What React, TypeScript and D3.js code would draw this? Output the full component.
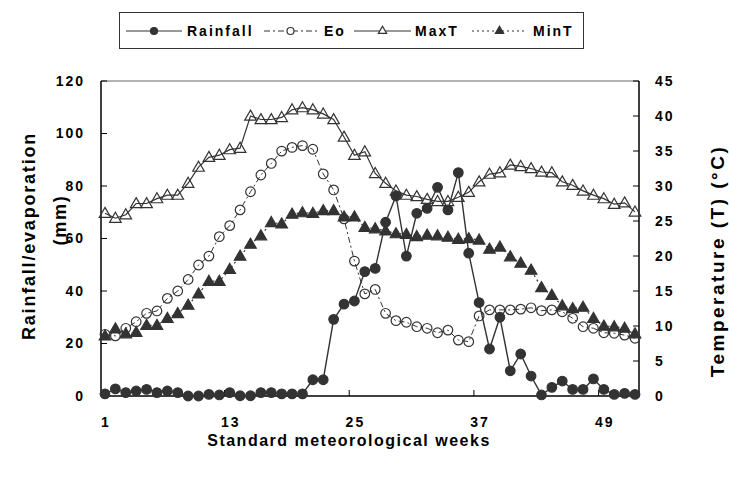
import { useEffect, useRef } from "react";
import * as d3 from "d3";

const weeks = d3.range(1, 53);

const rainfall = [
  0.8, 2.7, 1.3, 1.9, 2.5, 1.3, 1.9, 1.3, 0, 0, 0.6, 0.4, 1.3, 0.1, 0.1, 1.3, 1.3, 0.8, 0.8, 0.8,
  6.2, 6.2, 29.2, 35.0, 36.2, 47.4, 48.6, 66.2, 76.2, 53.3, 69.6, 71.5, 79.5, 70.9, 85.1, 54.4,
  35.6, 17.9, 30.0, 9.6, 16.0, 7.6, 0.4, 3.3, 5.7, 2.5, 2.5, 6.5, 2.5, 0.6, 1.0, 0.6,
];

const eo = [
  23.5, 22.9, 25.8, 28.3, 31.5, 32.4, 37.2, 40.0, 44.4, 49.9, 53.3, 60.7, 64.9, 70.9, 77.8, 84.2,
  88.6, 93.3, 94.7, 95.4, 94.0, 84.6, 78.5, 67.5, 51.4, 38.9, 40.6, 31.5, 28.7, 28.1, 26.4, 25.8,
  24.1, 25.1, 21.3, 20.7, 30.5, 32.8, 32.8, 32.8, 33.1, 33.6, 32.5, 32.8, 32.1, 29.6, 26.4, 25.8,
  24.1, 23.9, 23.2, 22.0,
];

const maxT = [
  26.1, 25.4, 25.9, 27.5, 27.5, 28.2, 28.7, 28.7, 30.4, 32.7, 34.1, 34.4, 35.2, 35.4, 40.0, 39.5,
  39.5, 39.8, 40.9, 41.2, 40.9, 40.3, 39.5, 37.0, 34.4, 34.9, 31.8, 30.4, 29.3, 28.7, 28.5, 28.1,
  27.8, 27.8, 28.4, 29.1, 30.6, 31.7, 31.9, 33.0, 32.8, 32.5, 32.0, 31.9, 30.6, 30.1, 29.3, 28.7,
  28.2, 27.4, 27.6, 26.3,
];

const minT = [
  8.6, 9.6, 8.9, 9.1, 10.1, 10.1, 11.1, 11.8, 13.0, 14.6, 16.4, 16.4, 18.1, 20.0, 21.7, 22.9,
  24.8, 24.6, 26.0, 26.2, 26.1, 26.5, 26.5, 25.6, 25.6, 24.1, 23.9, 23.6, 23.2, 23.1, 22.8, 23.0,
  22.9, 22.7, 22.4, 22.5, 22.3, 21.0, 21.3, 19.9, 19.0, 18.0, 15.5, 14.4, 12.9, 12.5, 12.7, 11.1,
  10.0, 9.9, 9.7, 8.9,
];

const leftTicks = [0, 20, 40, 60, 80, 100, 120];
const rightTicks = [0, 5, 10, 15, 20, 25, 30, 35, 40, 45];
const weekLabels = [1, 13, 25, 37, 49];

const INK = "#333";
const FONT = "'Liberation Sans', Arial, sans-serif";

export default function App() {
  const ref = useRef<SVGSVGElement>(null);

  useEffect(() => {
    const svg = d3.select(ref.current);
    svg.selectAll("*").remove();

    const left = 101, right = 639, top = 81, bottom = 396;

    const x = d3.scaleLinear().domain([1, 52]).range([105, 635]);
    const yL = d3.scaleLinear().domain([0, 120]).range([bottom, top]);
    const yR = d3.scaleLinear().domain([0, 45]).range([bottom, top]);

    // frame
    svg.append("line").attr("x1", left).attr("x2", right).attr("y1", top).attr("y2", top)
      .attr("stroke", "#999").attr("stroke-width", 1.5);
    svg.append("line").attr("x1", left).attr("x2", left).attr("y1", top).attr("y2", bottom)
      .attr("stroke", "#000").attr("stroke-width", 1.5);
    svg.append("line").attr("x1", right).attr("x2", right).attr("y1", top).attr("y2", bottom)
      .attr("stroke", "#000").attr("stroke-width", 1.5);
    svg.append("line").attr("x1", left).attr("x2", right).attr("y1", bottom).attr("y2", bottom)
      .attr("stroke", "#000").attr("stroke-width", 1.5);

    // left ticks
    const gl = svg.append("g");
    leftTicks.forEach((t) => {
      gl.append("line").attr("x1", left).attr("x2", left + 6).attr("y1", yL(t)).attr("y2", yL(t))
        .attr("stroke", "#000");
      gl.append("text").attr("x", 85).attr("y", yL(t)).attr("dy", "0.35em")
        .attr("text-anchor", "end").style("font", `bold 14px ${FONT}`)
        .style("letter-spacing", "2px").text(t);
    });

    // right ticks
    const gr = svg.append("g");
    rightTicks.forEach((t) => {
      gr.append("line").attr("x1", right - 6).attr("x2", right).attr("y1", yR(t)).attr("y2", yR(t))
        .attr("stroke", "#000");
      gr.append("text").attr("x", 655).attr("y", yR(t)).attr("dy", "0.35em")
        .attr("text-anchor", "start").style("font", `bold 14px ${FONT}`)
        .style("letter-spacing", "2px").text(t);
    });

    // x ticks between categories, labels on categories
    [12.5, 24.5, 36.5, 48.5].forEach((t) => {
      svg.append("line").attr("x1", x(t)).attr("x2", x(t)).attr("y1", bottom).attr("y2", bottom - 6)
        .attr("stroke", "#000");
    });
    weekLabels.forEach((w) => {
      svg.append("text").attr("x", x(w) + 1).attr("y", 427).attr("text-anchor", "middle")
        .style("font", `bold 14px ${FONT}`).style("letter-spacing", "2px").text(w);
    });

    // axis titles
    svg.append("text").attr("transform", "translate(29,236) rotate(-90)")
      .attr("text-anchor", "middle").attr("dominant-baseline", "central")
      .style("font", `bold 18px ${FONT}`).style("letter-spacing", "1.8px")
      .text("Rainfall/evaporation");
    svg.append("text").attr("transform", "translate(60,220) rotate(-90)")
      .attr("text-anchor", "middle").attr("dominant-baseline", "central")
      .style("font", `bold 18px ${FONT}`).style("letter-spacing", "1.8px")
      .text("(mm)");
    svg.append("text").attr("transform", "translate(717,261) rotate(-90)")
      .attr("text-anchor", "middle").attr("dominant-baseline", "central")
      .style("font", `bold 19px ${FONT}`).style("letter-spacing", "2.5px")
      .text("Temperature (T) (°C)");
    svg.append("text").attr("x", 349).attr("y", 446).attr("text-anchor", "middle")
      .style("font", `bold 16px ${FONT}`).style("letter-spacing", "1.5px")
      .text("Standard meteorological weeks");

    const tri = d3.symbol().type(d3.symbolTriangle).size(58);
    const triSmall = d3.symbol().type(d3.symbolTriangle).size(30);

    const series = [
      { data: rainfall, y: yL, dash: null, marker: "circle", fill: INK, width: 1.4 },
      { data: eo, y: yL, dash: "6,3,2,3", marker: "circle", fill: "none", width: 1 },
      { data: maxT, y: yR, dash: null, marker: "tri", fill: "#fff", width: 1.2 },
      { data: minT, y: yR, dash: "2,3", marker: "tri", fill: INK, width: 1.2 },
    ];

    const plot = svg.append("g");
    series.forEach((s) => {
      const line = d3.line<number>().x((_, i) => x(weeks[i])).y((d) => s.y(d));
      plot.append("path").attr("d", line(s.data)).attr("fill", "none").attr("stroke", INK)
        .attr("stroke-width", s.width).attr("stroke-dasharray", s.dash);
    });
    series.forEach((s) => {
      const g = plot.append("g");
      s.data.forEach((d, i) => {
        if (s.marker === "circle") {
          g.append("circle").attr("cx", x(weeks[i])).attr("cy", s.y(d)).attr("r", 4.8)
            .attr("fill", s.fill).attr("stroke", INK).attr("stroke-width", 1.2);
        } else {
          g.append("path").attr("d", tri()).attr("transform", `translate(${x(weeks[i])},${s.y(d) + 0.8})`)
            .attr("fill", s.fill === "#fff" ? "none" : s.fill).attr("stroke", INK).attr("stroke-width", 1.2);
        }
      });
    });

    // legend
    const lg = svg.append("g");
    lg.append("rect").attr("x", 119.5).attr("y", 12.5).attr("width", 464).attr("height", 36)
      .attr("fill", "#fff").attr("stroke", INK).attr("stroke-width", 1);
    const ly = 31;
    const items = [
      { name: "Rainfall", x1: 126, x2: 182, tx: 187, dash: null, marker: "circle", fill: INK },
      { name: "Eo", x1: 264, x2: 317, tx: 324, dash: "6,3,2,3", marker: "circle", fill: "#fff" },
      { name: "MaxT", x1: 354, x2: 411, tx: 415, dash: null, marker: "tri", fill: "#fff" },
      { name: "MinT", x1: 472, x2: 527, tx: 533, dash: "2,3", marker: "tri", fill: INK },
    ];
    items.forEach((it) => {
      lg.append("line").attr("x1", it.x1).attr("x2", it.x2).attr("y1", ly).attr("y2", ly)
        .attr("stroke", INK).attr("stroke-width", 1.2).attr("stroke-dasharray", it.dash);
      const cx = (it.x1 + it.x2) / 2;
      if (it.marker === "circle") {
        lg.append("circle").attr("cx", cx).attr("cy", ly).attr("r", 3.5)
          .attr("fill", it.fill).attr("stroke", INK).attr("stroke-width", 1.2);
      } else {
        lg.append("path").attr("d", triSmall()).attr("transform", `translate(${cx},${ly})`)
          .attr("fill", it.fill).attr("stroke", INK).attr("stroke-width", 1.2);
      }
      lg.append("text").attr("x", it.tx).attr("y", ly + 5).style("font", `bold 14px ${FONT}`)
        .style("letter-spacing", "2px").text(it.name);
    });
  }, []);

  return (
    <svg ref={ref} width={729} height={480}
      style={{ position: "absolute", left: 0, top: 0, background: "#fff" }} />
  );
}
